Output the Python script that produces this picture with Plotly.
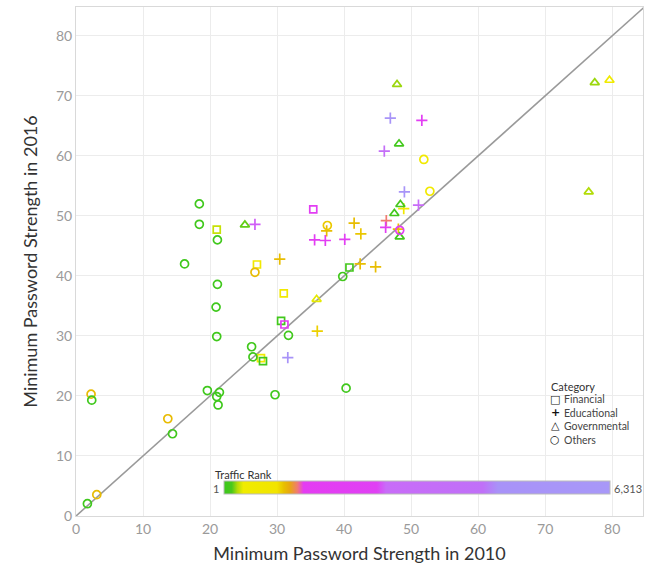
import plotly.graph_objects as go

# ---- data: (2010 strength, 2016 strength, traffic rank) per category ----
fin_x = [21.0, 27.0, 31.0, 27.6, 27.9, 30.6, 31.1, 35.4, 40.8]
fin_y = [47.7, 41.9, 37.1, 26.3, 25.8, 32.5, 31.9, 51.1, 41.4]
fin_rank = [250, 500, 500, 500, 40, 60, 1800, 1900, 80]

edu_x = [26.7, 30.4, 37.4, 41.5, 42.5, 35.6, 37.2, 40.1, 42.4, 44.7, 36.0,
         31.6, 49.0, 48.9, 51.1, 46.3, 46.2, 48.1, 46.9, 51.6, 46.0]
edu_y = [48.6, 42.8, 47.5, 48.8, 47.0, 46.0, 45.9, 46.1, 42.0, 41.5, 30.8,
         26.4, 54.0, 51.2, 51.8, 49.2, 48.1, 47.8, 66.3, 65.9, 60.8]
edu_rank = [2600, 990, 990, 990, 960, 1700, 1800, 2000, 990, 990, 930,
            4800, 5500, 620, 2650, 1200, 1800, 1000, 5000, 1800, 3500]

gov_x = [25.2, 35.9, 48.4, 47.5, 48.3, 47.9, 77.4, 79.6, 48.2, 76.5]
gov_y = [48.5, 36.1, 51.9, 50.4, 46.5, 71.9, 72.2, 72.6, 62.0, 54.0]
gov_rank = [150, 300, 120, 60, 80, 200, 200, 450, 70, 220]

oth_x = [1.7, 3.1, 2.25, 2.35, 13.7, 14.4, 19.6, 21.0, 21.4, 21.2, 21.0, 26.2,
         26.4, 29.7, 31.7, 18.4, 18.4, 21.1, 16.2, 26.7, 21.1, 20.9, 39.8,
         37.5, 52.8, 48.3, 51.9, 40.3]
oth_y = [2.05, 3.55, 20.3, 19.3, 16.2, 13.7, 20.9, 19.9, 20.6, 18.5, 29.9, 28.2,
         26.5, 20.2, 30.1, 52.0, 48.6, 46.0, 42.0, 40.6, 38.6, 34.8, 39.9,
         48.4, 54.1, 47.6, 59.4, 21.3]
oth_rank = [30, 1000, 1000, 30, 1000, 40, 30, 30, 40, 30, 40, 50,
            40, 30, 50, 30, 40, 40, 30, 1000, 40, 30, 60,
            950, 500, 1800, 500, 40]

rank_min, rank_max = 1, 6313
categories = ["Financial", "Educational", "Governmental", "Others"]
tick_vals = [0, 10, 20, 30, 40, 50, 60, 70, 80]
diag = [0, 85]

colorscale = [
    [0.0, "#3cc81c"], [0.02, "#48c81c"], [0.035, "#b4dc08"], [0.05, "#f0ec00"],
    [0.137, "#f2e400"], [0.155, "#e8c000"], [0.17, "#e8a810"], [0.19, "#f07c70"],
    [0.206, "#e43cf2"], [0.396, "#e040f4"], [0.42, "#c86cf8"], [0.67, "#c070f8"],
    [0.71, "#a892f8"], [1.0, "#a898f8"],
]

FONT = "Lato, 'Open Sans', sans-serif"

fig = go.Figure()
fig.add_trace(go.Scatter(x=diag, y=diag, mode="lines",
                         line=dict(color="#9a9a9a", width=1.6),
                         hoverinfo="skip", showlegend=False))

series = [
    ("Financial", fin_x, fin_y, fin_rank, "square-open", 7),
    ("Educational", edu_x, edu_y, edu_rank, "cross-thin-open", 8),
    ("Governmental", gov_x, gov_y, gov_rank, "triangle-up-open", 8),
    ("Others", oth_x, oth_y, oth_rank, "circle-open", 8),
]
for name, xs, ys, rk, sym, sz in series:
    fig.add_trace(go.Scatter(
        x=xs, y=ys, mode="markers", name=name, showlegend=False,
        marker=dict(symbol=sym, size=sz, color=rk, coloraxis="coloraxis",
                    line=dict(width=1.7)),
    ))

W, H = 649, 570
L, R, T, B = 76, 6, 7, 54
pw, ph = W - L - R, H - T - B


def px(xp):
    return (xp - L) / pw


def py(yp):
    return (H - B - yp) / ph


fig.update_layout(
    width=W, height=H,
    margin=dict(l=L, r=R, t=T, b=B, autoexpand=False),
    paper_bgcolor="white", plot_bgcolor="white",
    font=dict(family=FONT, color="#333"),
    showlegend=False,
    coloraxis=dict(
        colorscale=colorscale, cmin=rank_min, cmax=rank_max,
        colorbar=dict(
            orientation="h", lenmode="pixels", len=386, thickness=13,
            x=px(416.5), xanchor="center", y=py(495), yanchor="bottom",
            xpad=0, ypad=0, showticklabels=False, ticks="",
            outlinecolor="#bbbbbb", outlinewidth=1,
            title=dict(text=""),
        ),
    ),
    xaxis=dict(
        range=[0, 84.6], tickvals=tick_vals, showgrid=True, gridcolor="#ececec",
        zeroline=False, showline=True, linecolor="#d9d9d9", linewidth=1, mirror=True,
        ticks="", automargin=False, tickfont=dict(size=14, color="#9a9a9a", family=FONT),
        title=dict(text="Minimum Password Strength in 2010",
                   font=dict(size=18, color="#333", family=FONT), standoff=11),
    ),
    yaxis=dict(
        range=[0, 84.8], tickvals=tick_vals, showgrid=True, gridcolor="#ececec",
        zeroline=False, showline=True, linecolor="#d9d9d9", linewidth=1, mirror=True,
        ticks="", automargin=False, tickfont=dict(size=14, color="#9a9a9a", family=FONT),
        title=dict(text="Minimum Password Strength in 2016",
                   font=dict(size=18, color="#333", family=FONT), standoff=13),
    ),
)

ann = []
ann.append(dict(text="Traffic Rank", x=px(213), y=py(474), xanchor="left", yanchor="middle",
                font=dict(size=11, color="#333", family=FONT)))
ann.append(dict(text=f"{rank_min:,}", x=px(221), y=py(488.5), xanchor="right", yanchor="middle",
                font=dict(size=11, color="#555", family=FONT)))
ann.append(dict(text=f"{rank_max:,}", x=px(612), y=py(488.5), xanchor="left", yanchor="middle",
                font=dict(size=11, color="#555", family=FONT)))
ann.append(dict(text="Category", x=px(549), y=py(386), xanchor="left", yanchor="middle",
                font=dict(size=11, color="#333", family=FONT)))
symbols = ["<b>□</b>", "<b>+</b>", "<b>△</b>", "<b>○</b>"]
for i, (sym, cat) in enumerate(zip(symbols, categories)):
    yy = 399 + i * 13.5
    ann.append(dict(text=sym, x=px(555), y=py(yy), xanchor="center", yanchor="middle",
                    font=dict(size=11, color="#111", family="DejaVu Sans")))
    ann.append(dict(text=cat, x=px(562), y=py(yy), xanchor="left", yanchor="middle",
                    font=dict(size=10.5, color="#444", family=FONT)))
for a in ann:
    a.update(xref="paper", yref="paper", showarrow=False)
fig.update_layout(annotations=ann)

fig.write_html("out.html", config={"displayModeBar": False},
               post_script="document.body.style.margin='0';document.body.style.padding='0';")
